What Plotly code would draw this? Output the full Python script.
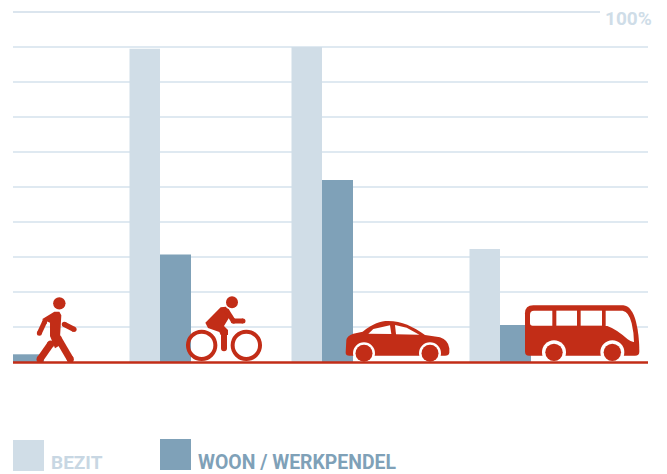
import plotly.graph_objects as go

W, H = 667, 474
modes = ["Lopen", "Fiets", "Auto", "Bus"]
series_names = ["BEZIT", "WOON / WERKPENDEL"]
bezit = [0, 89.5, 90, 32.3]
woon = [2.2, 30.7, 52, 10.6]
group_edges = [13, 160, 322, 500]   # boundary between the two bars of each group (axis = px)
grid_ticks = [10, 20, 30, 40, 50, 60, 70, 80, 90]

LIGHT, DARK, RED, GRID, TOP = "#d0dde7", "#7fa1b8", "#c22d17", "#dfe9f1", "#cfdde8"
BAR_W = 31

fig = go.Figure()
fig.add_bar(x=group_edges, y=bezit, width=30.5, offset=-30.5, marker=dict(color=LIGHT, line_width=0),
            name=series_names[0], customdata=modes)
fig.add_bar(x=group_edges, y=woon, width=BAR_W, offset=0, marker=dict(color=DARK, line_width=0),
            name=series_names[1], customdata=modes)

X0, X1, Y0, Y1 = 13, 648, 362, 12
fig.update_layout(
    width=W, height=H, margin=dict(l=0, r=0, t=0, b=0), showlegend=False,
    paper_bgcolor="white", plot_bgcolor="white", barmode="overlay",
    xaxis=dict(domain=[X0 / W, X1 / W], range=[X0, X1], showgrid=False, zeroline=False,
               showticklabels=False, ticks="", fixedrange=True),
    yaxis=dict(domain=[1 - Y0 / H, 1 - Y1 / H], range=[0, 100], tickvals=grid_ticks, showticklabels=False,
               ticks="", gridcolor=GRID, gridwidth=1.5, zeroline=False, fixedrange=True),
)

shapes = []
def px(p):
    return p[0] / W, 1 - p[1] / H
def poly(points, color=RED, closed=True):
    d = ""
    for i, p in enumerate(points):
        x, y = px(p)
        d += ("M" if i == 0 else "L") + f"{x:.5f},{y:.5f}"
    shapes.append(dict(type="path", xref="paper", yref="paper", path=d + ("Z" if closed else ""),
                       fillcolor=color, line=dict(width=0), layer="above"))
def curve(tokens, color=RED):
    d = ""
    for cmd, *pts in tokens:
        d += cmd + " ".join("{:.5f},{:.5f}".format(*px(p)) for p in pts)
    shapes.append(dict(type="path", xref="paper", yref="paper", path=d + "Z", fillcolor=color,
                       line=dict(width=0), layer="above"))
def circle(c, r, color=RED, ring=None):
    x0, y1 = px((c[0] - r, c[1] - r))
    x1, y0 = px((c[0] + r, c[1] + r))
    shapes.append(dict(type="circle", xref="paper", yref="paper", x0=x0, x1=x1, y0=y0, y1=y1,
                       fillcolor=None if ring else color,
                       line=dict(width=ring or 0, color=color), layer="above"))
def capsule(a, b, w):
    dx, dy = b[0] - a[0], b[1] - a[1]
    n = (dx * dx + dy * dy) ** 0.5
    ox, oy = -dy / n * w / 2, dx / n * w / 2
    poly([(a[0] + ox, a[1] + oy), (b[0] + ox, b[1] + oy), (b[0] - ox, b[1] - oy), (a[0] - ox, a[1] - oy)])
    circle(a, w / 2)
    circle(b, w / 2)

# zoom-crop coordinates -> page pixels
L = lambda x, y: (x / 3, 280 + y / 3)
R = lambda x, y: (330 + x / 3, 280 + y / 3)

# top line + 100 %
x0, y0 = px((13, 12)); x1, _ = px((600, 12))
shapes.append(dict(type="line", xref="paper", yref="paper", x0=x0, x1=x1, y0=y0, y1=y0,
                   line=dict(color=TOP, width=1.5), layer="below"))

# walker
circle(L(178, 70), 6.2)
poly([L(126, 118), L(163, 95), L(178, 95), L(184, 106), L(180, 172), L(192, 188), L(165, 205), L(150, 168), L(150, 128)])
capsule(L(134, 125), L(118, 160), 5)
capsule(L(193, 133), L(222, 148), 5.2)
capsule(L(174, 175), L(211, 238), 7)
capsule(L(152, 192), L(120, 238), 7)

# cyclist
circle(L(696, 67), 6)
poly([L(616, 128), L(662, 82), L(678, 80), L(692, 105), L(672, 138), L(684, 150), L(684, 165), L(662, 165), L(658, 156), L(624, 144)])
capsule(L(680, 92), L(700, 123), 5)
capsule(L(700, 123), L(729, 123), 5)
capsule(L(672, 155), L(672, 205), 6)
circle(L(605, 196), 13.7, ring=4)
circle(L(739, 196), 13.7, ring=4)

# car
curve([("M", R(47, 218)), ("L", R(49, 180)), ("Q", R(50, 168), R(70, 161)), ("L", R(98, 155)),
       ("C", R(130, 130), R(150, 123), R(175, 123)), ("C", R(215, 123), R(250, 140), R(285, 165)),
       ("L", R(330, 172)), ("Q", R(355, 180), R(358, 205)), ("L", R(358, 218)),
       ("Q", R(357, 227), R(345, 227)), ("L", R(58, 227)), ("Q", R(47, 227), R(47, 218))])
poly([R(115, 161), R(130, 147), R(180, 136), R(184, 162)], "white")
poly([R(195, 135), R(230, 143), R(268, 164), R(198, 163)], "white")
for c in [R(102, 220), R(300, 220)]:
    circle(c, 11, "white")
    circle(c, 8.5)

# bus
curve([("M", R(585, 100)), ("Q", R(585, 76), R(610, 76)), ("L", R(880, 76)), ("Q", R(905, 78), R(918, 125)),
       ("Q", R(928, 165), R(928, 215)), ("Q", R(928, 227), R(915, 227)), ("L", R(597, 227)),
       ("Q", R(585, 227), R(585, 215))])
curve([("M", R(600, 104)), ("Q", R(600, 92), R(612, 92)), ("L", R(667, 92)), ("L", R(667, 137)), ("L", R(608, 137)),
       ("Q", R(600, 137), R(600, 129))], "white")
poly([R(679, 92), R(741, 92), R(741, 137), R(679, 137)], "white")
poly([R(752, 92), R(816, 92), R(816, 137), R(752, 137)], "white")
curve([("M", R(827, 92)), ("L", R(878, 92)), ("Q", R(897, 95), R(905, 130)), ("Q", R(912, 160), R(912, 186)),
       ("Q", R(905, 187), R(893, 178)), ("Q", R(860, 148), R(832, 138)), ("L", R(827, 138))], "white")
for c in [R(672, 217), R(847, 217)]:
    circle(c, 12, "white")
    circle(c, 8.7)

# baseline on top of everything
a, b = px((13, 362.5)); c, _ = px((648, 362.5))
shapes.append(dict(type="line", xref="paper", yref="paper", x0=a, x1=c, y0=b, y1=b,
                   line=dict(color=RED, width=2.5), layer="above"))

# legend swatches
for (sx, sy), col in zip([(13, 440), (160, 439)], [LIGHT, DARK]):
    a, b = px((sx, sy + 31)); c, d = px((sx + 31, sy))
    shapes.append(dict(type="rect", xref="paper", yref="paper", x0=a, x1=c, y0=b, y1=d,
                       fillcolor=col, line=dict(width=0), layer="above"))
fig.update_layout(shapes=shapes)

def label(text, x, y, color, size=19):
    ax, ay = px((x, y))
    fig.add_annotation(text=f"<b>{text}</b>", x=ax, y=ay, xref="paper", yref="paper", xanchor="left", yanchor="middle",
                       showarrow=False, align="left", font=dict(family="Roboto", size=size, color=color))
label(series_names[0], 49, 462, "#c8d7e3")
label(series_names[1], 196, 462, DARK, 19.4)
label("100%", 603, 18.5, "#cfdde8")

fig.write_html("out.html", config=dict(displayModeBar=False),
               post_script="document.body.style.margin='0';document.documentElement.style.overflow='hidden';")
